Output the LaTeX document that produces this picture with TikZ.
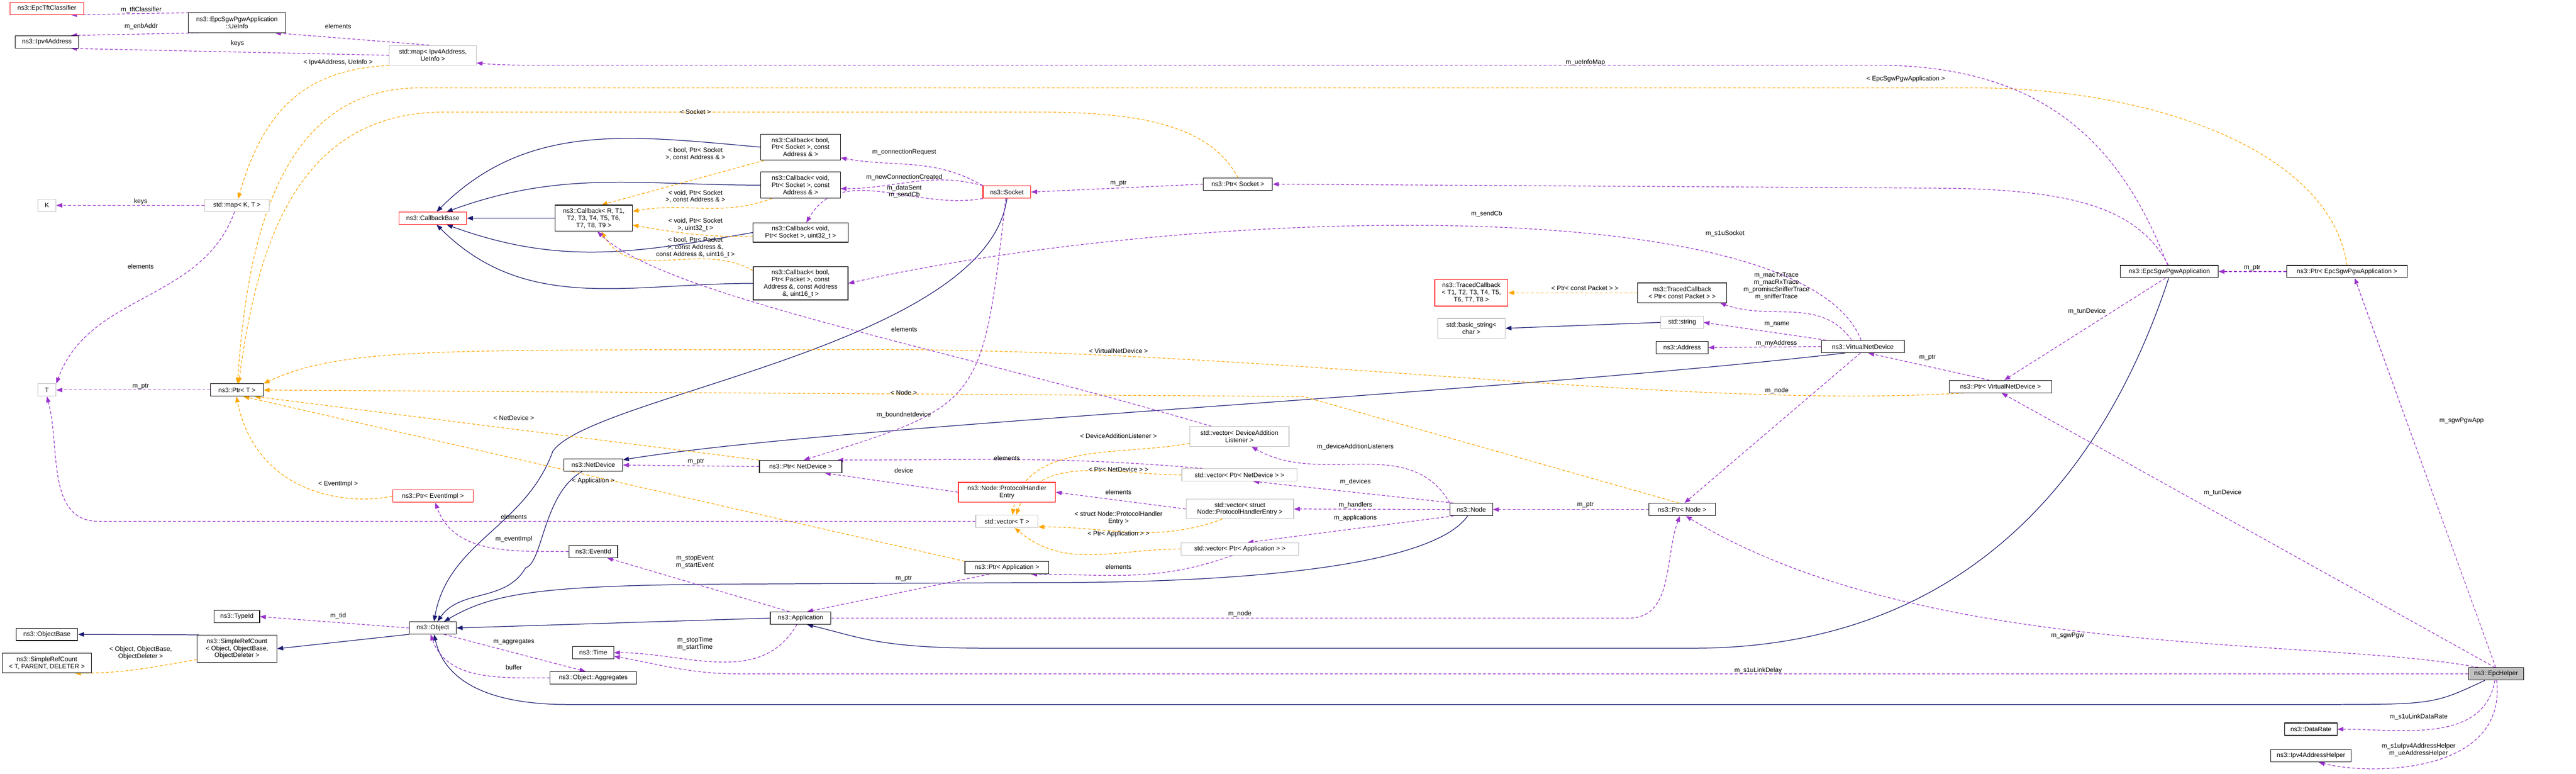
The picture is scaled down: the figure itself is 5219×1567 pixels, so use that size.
\documentclass[tikz,border=0pt]{standalone}
\usepackage{fontspec}
\setmainfont{Liberation Sans}
\usetikzlibrary{arrows.meta}
\definecolor{navy}{HTML}{191970}
\definecolor{purp}{HTML}{9A32CD}
\definecolor{orng}{HTML}{FFA500}
\definecolor{grayb}{HTML}{BFBFBF}
\pgfdeclarelayer{edges}
\pgfsetlayers{edges,main}
\tikzset{
 box/.style={draw=black,line width=1.2pt,fill=white,inner sep=1pt,align=center,font=\fontsize{13}{14.5}\selectfont},
 gbox/.style={box,draw=grayb},
 rbox/.style={box,draw=red},
 lbl/.style={inner sep=0pt,align=center,font=\fontsize{13}{14.5}\selectfont},
 tip/.style={-{Triangle[length=12pt,width=9pt]}},
 use/.style={tip,draw=purp,line width=1.3pt,dash pattern=on 6pt off 4pt},
 inh/.style={tip,draw=navy,line width=1.3pt},
 tmpl/.style={tip,draw=orng,line width=1.3pt,dash pattern=on 6pt off 4pt},
}
\begin{document}
\begin{tikzpicture}[x=1pt,y=-1pt]
\useasboundingbox (0,0) rectangle (5219,1567);
% nodes
\node[rbox,minimum width=149,minimum height=25] (tft) at (95,17) {ns3::EpcTftClassifier};
\node[box,minimum width=197,minimum height=40] (ueinfo) at (480,46) {ns3::EpcSgwPgwApplication\\::UeInfo};
\node[box,minimum width=129,minimum height=25] (ipv4) at (95,85) {ns3::Ipv4Address};
\node[gbox,minimum width=176,minimum height=40] (mapue) at (877,112) {std::map< Ipv4Address,\\UeInfo >};
\node[gbox,minimum width=37,minimum height=25] (K) at (95,416) {K};
\node[gbox,minimum width=131,minimum height=25] (mapkt) at (480,416) {std::map< K, T >};
\node[rbox,minimum width=137,minimum height=25] (cbbase) at (877,442) {ns3::CallbackBase};
\node[box,minimum width=156,minimum height=53] (cbR) at (1203,442) {ns3::Callback< R, T1,\\T2, T3, T4, T5, T6,\\T7, T8, T9 >};
\node[box,minimum width=161,minimum height=53] (cb1) at (1622,298) {ns3::Callback< bool,\\Ptr< Socket >, const\\Address \& >};
\node[box,minimum width=161,minimum height=53] (cb2) at (1622,375) {ns3::Callback< void,\\Ptr< Socket >, const\\Address \& >};
\node[box,minimum width=193,minimum height=39] (cb3) at (1622,471) {ns3::Callback< void,\\Ptr< Socket >, uint32\_t >};
\node[box,minimum width=192,minimum height=67] (cb4) at (1622,574) {ns3::Callback< bool,\\Ptr< Packet >, const\\Address \&, const Address\\\&, uint16\_t >};
\node[rbox,minimum width=97,minimum height=25] (socket) at (2040,389) {ns3::Socket};
\node[box,minimum width=140,minimum height=25] (ptrsock) at (2508,373) {ns3::Ptr< Socket >};
\node[gbox,minimum width=37,minimum height=25] (T) at (95,790) {T};
\node[box,minimum width=107,minimum height=25] (ptrT) at (480,790) {ns3::Ptr< T >};
\node[rbox,minimum width=163,minimum height=25] (ptrev) at (877,1005) {ns3::Ptr< EventImpl >};
\node[box,minimum width=119,minimum height=25] (netdev) at (1202,942) {ns3::NetDevice};
\node[box,minimum width=99,minimum height=25] (eventid) at (1202,1117) {ns3::EventId};
\node[box,minimum width=92,minimum height=25] (typeid) at (480,1249) {ns3::TypeId};
\node[box,minimum width=95,minimum height=25] (object) at (877,1272) {ns3::Object};
\node[box,minimum width=125,minimum height=25] (objbase) at (95,1285) {ns3::ObjectBase};
\node[box,minimum width=162,minimum height=55] (src) at (480,1314) {ns3::SimpleRefCount\\< Object, ObjectBase,\\ObjectDeleter >};
\node[box,minimum width=180,minimum height=40] (srt) at (95,1343) {ns3::SimpleRefCount\\< T, PARENT, DELETER >};
\node[box,minimum width=83,minimum height=25] (time) at (1202,1322) {ns3::Time};
\node[box,minimum width=175,minimum height=25] (aggr) at (1202,1373) {ns3::Object::Aggregates};
\node[box,minimum width=167,minimum height=25] (ptrnd) at (1622,945) {ns3::Ptr< NetDevice >};
\node[rbox,minimum width=197,minimum height=40] (phe) at (2040,997) {ns3::Node::ProtocolHandler\\Entry};
\node[gbox,minimum width=126,minimum height=25] (vecT) at (2040,1056) {std::vector< T >};
\node[box,minimum width=170,minimum height=25] (ptrapp) at (2040,1150) {ns3::Ptr< Application >};
\node[box,minimum width=123,minimum height=25] (app) at (1622,1252) {ns3::Application};
\node[gbox,minimum width=201,minimum height=40] (vdal) at (2511,884) {std::vector< DeviceAddition\\Listener >};
\node[gbox,minimum width=233,minimum height=25] (vnd) at (2511,962) {std::vector< Ptr< NetDevice > >};
\node[gbox,minimum width=218,minimum height=40] (vphe) at (2512,1031) {std::vector< struct\\Node::ProtocolHandlerEntry >};
\node[gbox,minimum width=238,minimum height=25] (vapp) at (2512,1112) {std::vector< Ptr< Application > >};
\node[rbox,minimum width=148,minimum height=54] (tcT) at (2981,593) {ns3::TracedCallback\\< T1, T2, T3, T4, T5,\\T6, T7, T8 >};
\node[box,minimum width=180,minimum height=40] (tcP) at (3408,593) {ns3::TracedCallback\\< Ptr< const Packet > >};
\node[gbox,minimum width=137,minimum height=40] (bstr) at (2981,665) {std::basic\_string<\\char >};
\node[gbox,minimum width=86,minimum height=25] (str) at (3408,653) {std::string};
\node[box,minimum width=105,minimum height=25] (addr) at (3408,704) {ns3::Address};
\node[box,minimum width=168,minimum height=25] (vndev) at (3774,702) {ns3::VirtualNetDevice};
\node[box,minimum width=86,minimum height=25] (node) at (2981,1032) {ns3::Node};
\node[box,minimum width=134,minimum height=25] (ptrnode) at (3408,1032) {ns3::Ptr< Node >};
\node[box,minimum width=198,minimum height=25] (sgw) at (4395,550) {ns3::EpcSgwPgwApplication};
\node[box,minimum width=245,minimum height=25] (ptrsgw) at (4755,550) {ns3::Ptr< EpcSgwPgwApplication >};
\node[box,minimum width=208,minimum height=25] (ptrvnd) at (4053,783) {ns3::Ptr< VirtualNetDevice >};
\node[box,fill=grayb,minimum width=112,minimum height=25] (epc) at (5057,1365) {ns3::EpcHelper};
\node[box,minimum width=106,minimum height=25] (datarate) at (4682,1477) {ns3::DataRate};
\node[box,minimum width=163,minimum height=25] (ipv4h) at (4682,1531) {ns3::Ipv4AddressHelper};

\begin{pgfonlayer}{edges}
% inheritance
\draw[inh] (cb1.west) to[out=175,in=45] (cbbase.60);
\draw[inh] (cb2.west) to[out=180,in=20] (cbbase.25);
\draw[inh] (cbR.west) -- (cbbase.east);
\draw[inh] (cb3.west) to[out=190,in=-20] (cbbase.-25);
\draw[inh] (cb4.west) to[out=180,in=-45] (cbbase.-60);
\draw[inh] (socket.south) .. controls (2000,700) and (1200,800) .. (1120,914) to[out=-110,in=80] (object.80);
\draw[inh] (vndev.200) .. controls (3000,800) and (1700,860) .. (netdev.10);
\draw[inh] (netdev.-150) .. controls (1100,1000) and (1100,1140) .. (1065,1150) to[out=-120,in=55] (object.55);
\draw[inh] (node.-120) .. controls (2900,1150) and (2500,1180) .. (2130,1180) -- (1500,1183) .. controls (1100,1185) and (1000,1200) .. (object.30);
\draw[inh] (app.west) -- (object.east);
\draw[inh] (sgw.-95) .. controls (4250,1000) and (3950,1313) .. (3430,1313) -- (2000,1313) .. controls (1780,1313) and (1740,1290) .. (app.-45);
\draw[inh] (epc.-150) .. controls (4930,1427) .. (4700,1427) -- (1150,1427) .. controls (920,1427) and (890,1330) .. (object.-80);
\draw[inh] (object.195) -- (src.east);
\draw[inh] (src.160) -- (objbase.east);
\draw[inh] (str.west) -- (bstr.east);
% template
\draw[tmpl] (mapue.south west) .. controls (640,140) and (540,200) .. (mapkt.80);
\draw[tmpl] (cb1.-160) -- (cbR.60);
\draw[tmpl] (cb2.-155) to[out=200,in=10] (cbR.10);
\draw[tmpl] (cb3.185) to[out=180,in=-10] (cbR.-10);
\draw[tmpl] (cb4.165) to[out=150,in=-60] (cbR.-60);
\draw[tmpl] (ptrsock.north) .. controls (2450,250) and (2300,227) .. (2100,227) -- (900,227) .. controls (600,227) and (520,500) .. (ptrT.75);
\draw[tmpl] (ptrsgw.north) .. controls (4720,300) and (4350,178) .. (4000,178) -- (850,178) .. controls (560,178) and (500,500) .. (ptrT.85);
\draw[tmpl] (ptrvnd.190) .. controls (3400,830) and (2600,710) .. (1790,708) .. controls (900,710) and (700,700) .. (ptrT.north east);
\draw[tmpl] (ptrnode.115) -- (2640,803) -- (ptrT.east);
\draw[tmpl] (ptrnd.north west) -- (ptrT.-20);
\draw[tmpl] (ptrapp.north west) -- (ptrT.-45);
\draw[tmpl] (ptrev.west) .. controls (700,1025) and (520,1000) .. (ptrT.-95);
\draw[tmpl] (vdal.188) to[out=190,in=80] (vecT.50);
\draw[tmpl] (vnd.west) to[out=180,in=70] (vecT.35);
\draw[tmpl] (vphe.-150) to[out=200,in=0] (vecT.-10);
\draw[tmpl] (vapp.west) to[out=180,in=-40] (vecT.-40);
\draw[tmpl] (tcP.west) -- (tcT.east);
\draw[tmpl] (src.-165) to[out=190,in=0] (srt.-20);
% usage
\draw[use] (ueinfo.165) -- (tft.-15);
\draw[use] (ueinfo.195) -- (ipv4.15);
\draw[use] (mapue.110) -- (ueinfo.-15);
\draw[use] (mapue.west) -- (ipv4.-15);
\draw[use] (sgw.105) .. controls (4300,300) and (4150,132) .. (3800,132) -- (1100,132) to[out=180,in=-5] (mapue.-10);
\draw[use] (sgw.98) .. controls (4330,420) and (4200,381) .. (3900,381) -- (ptrsock.east);
\draw[use] (mapkt.west) -- (K.east);
\draw[use] (mapkt.-110) to[out=250,in=70] (T.north east);
\draw[use] (ptrT.west) -- (T.east);
\draw[use] (vecT.west) -- (200,1056) to[out=180,in=-75] (T.south);
\draw[use] (socket.north west) to[out=150,in=-10] (cb1.-15);
\draw[use] (socket.165) to[out=165,in=0] (cb2.-5);
\draw[use] (socket.195) to[out=190,in=60] (cb3.60);
\draw[use] (ptrsock.west) -- (socket.east);
\draw[use] (socket.-100) .. controls (1990,820) .. (ptrnd.65);
\draw[use] (vndev.105) .. controls (3650,380) and (2400,420) .. (cb4.east);
\draw[use] (vdal.160) .. controls (1900,700) and (1350,600) .. (cbR.-75);
\draw[use] (ptrnd.west) -- (netdev.east);
\draw[use] (vnd.170) to[out=175,in=0] (ptrnd.10);
\draw[use] (phe.west) -- (ptrnd.-15);
\draw[use] (vphe.west) -- (phe.east);
\draw[use] (vapp.-140) to[out=200,in=0] (ptrapp.-15);
\draw[use] (eventid.west) to[out=180,in=-70] (ptrev.-70);
\draw[use] (app.150) -- (eventid.-25);
\draw[use] (app.-120) to[out=240,in=0] (time.east);
\draw[use] (ptrapp.-160) -- (app.45);
\draw[use] (app.east) -- (3300,1252) to[out=0,in=-110] (ptrnode.-110);
\draw[use] (object.west) -- (typeid.east);
\draw[use] (object.-30) -- (aggr.140);
\draw[use] (aggr.west) to[out=180,in=-70] (object.-110);
\draw[use] (node.north west) to[out=120,in=-30] (vdal.-40);
\draw[use] (node.160) -- (vnd.-25);
\draw[use] (node.west) -- (vphe.east);
\draw[use] (node.200) -- (vapp.40);
\draw[use] (ptrnode.west) -- (node.east);
\draw[use] (vndev.150) to[out=125,in=-20] (tcP.-15);
\draw[use] (vndev.170) -- (str.east);
\draw[use] (vndev.west) -- (addr.east);
\draw[use] (vndev.-110) -- (ptrnode.70);
\draw[use] (ptrvnd.150) -- (vndev.-50);
\draw[use] (sgw.-120) -- (ptrvnd.60);
\draw[use] (ptrsgw.west) -- (sgw.east);
\draw[use] (epc.93) -- (ptrsgw.-40);
\draw[use] (epc.100) -- (ptrvnd.-80);
\draw[use] (epc.160) .. controls (4700,1290) and (3900,1340) .. (ptrnode.-60);
\draw[use] (epc.west) -- (1500,1365) to[out=180,in=-10] (time.-10);
\draw[use] (epc.-100) to[out=-100,in=0] (datarate.east);
\draw[use] (epc.-85) .. controls (5080,1570) and (4800,1570) .. (ipv4h.-40);
\end{pgfonlayer}
% labels
\node[lbl] (l1) at (286,20) {m\_tftClassifier};
\node[lbl] (l2) at (286,53) {m\_enbAddr};
\node[lbl] (l3) at (685,53) {elements};
\node[lbl] (l4) at (481,88) {keys};
\node[lbl] (l5) at (685,127) {< Ipv4Address, UeInfo >};
\node[lbl] (l6) at (285,408) {keys};
\node[lbl] (l7) at (285,540) {elements};
\node[lbl] (l8) at (285,783) {m\_ptr};
\node[lbl] (l9) at (1041,847) {< NetDevice >};
\node[lbl] (l10) at (685,980) {< EventImpl >};
\node[lbl] (l11) at (1202,974) {< Application >};
\node[lbl] (l12) at (1041,1047) {elements};
\node[lbl] (l13) at (1041,1092) {m\_eventImpl};
\node[lbl] (l14) at (685,1248) {m\_tid};
\node[lbl] (l15) at (285,1323) {< Object, ObjectBase,\\ObjectDeleter >};
\node[lbl] (l16) at (1041,1300) {m\_aggregates};
\node[lbl] (l17) at (1041,1352) {buffer};
\node[lbl] (l18) at (1409,227) {< Socket >};
\node[lbl] (l19) at (1409,312) {< bool, Ptr< Socket\\>, const Address \& >};
\node[lbl] (l20) at (1832,308) {m\_connectionRequest};
\node[lbl] (l21) at (1832,359) {m\_newConnectionCreated};
\node[lbl] (l22) at (1832,388) {m\_dataSent\\m\_sendCb};
\node[lbl] (l23) at (1409,398) {< void, Ptr< Socket\\>, const Address \& >};
\node[lbl] (l24) at (1409,455) {< void, Ptr< Socket\\>, uint32\_t >};
\node[lbl] (l25) at (1409,501) {< bool, Ptr< Packet\\>, const Address \&,\\const Address \&, uint16\_t >};
\node[lbl] (l26) at (2266,371) {m\_ptr};
\node[lbl] (l27) at (1832,667) {elements};
\node[lbl] (l28) at (2266,711) {< VirtualNetDevice >};
\node[lbl] (l29) at (1831,795) {< Node >};
\node[lbl] (l30) at (1831,841) {m\_boundnetdevice};
\node[lbl] (l31) at (2266,883) {< DeviceAdditionListener >};
\node[lbl] (l32) at (1410,935) {m\_ptr};
\node[lbl] (l33) at (2040,928) {elements};
\node[lbl] (l34) at (1831,953) {device};
\node[lbl] (l35) at (2266,951) {< Ptr< NetDevice > >};
\node[lbl] (l36) at (2266,997) {elements};
\node[lbl] (l37) at (2266,1049) {< struct Node::ProtocolHandler\\Entry >};
\node[lbl] (l38) at (2266,1082) {< Ptr< Application > >};
\node[lbl] (l39) at (1408,1138) {m\_stopEvent\\m\_startEvent};
\node[lbl] (l40) at (2266,1148) {elements};
\node[lbl] (l41) at (1831,1172) {m\_ptr};
\node[lbl] (l42) at (2512,1243) {m\_node};
\node[lbl] (l43) at (1408,1304) {m\_stopTime\\m\_startTime};
\node[lbl] (l44) at (3211,584) {< Ptr< const Packet > >};
\node[lbl] (l45) at (3599,580) {m\_macTxTrace\\m\_macRxTrace\\m\_promiscSnifferTrace\\m\_snifferTrace};
\node[lbl] (l46) at (3600,657) {m\_name};
\node[lbl] (l47) at (3599,695) {m\_myAddress};
\node[lbl] (l48) at (3600,791) {m\_node};
\node[lbl] (l49) at (2746,905) {m\_deviceAdditionListeners};
\node[lbl] (l50) at (2746,976) {m\_devices};
\node[lbl] (l51) at (2746,1023) {m\_handlers};
\node[lbl] (l52) at (2746,1049) {m\_applications};
\node[lbl] (l53) at (3212,1023) {m\_ptr};
\node[lbl] (l54) at (4563,543) {m\_ptr};
\node[lbl] (l55) at (4228,631) {m\_tunDevice};
\node[lbl] (l56) at (3905,724) {m\_ptr};
\node[lbl] (l57) at (4987,852) {m\_sgwPgwApp};
\node[lbl] (l58) at (4503,998) {m\_tunDevice};
\node[lbl] (l59) at (4189,1287) {m\_sgwPgw};
\node[lbl] (l60) at (4900,1452) {m\_s1uLinkDataRate};
\node[lbl] (l61) at (4900,1519) {m\_s1uIpv4AddressHelper\\m\_ueAddressHelper};
\node[lbl] (l62) at (3212,127) {m\_ueInfoMap};
\node[lbl] (l63) at (3861,160) {< EpcSgwPgwApplication >};
\node[lbl] (l64) at (3495,473) {m\_s1uSocket};
\node[lbl] (l65) at (3012,433) {m\_sendCb};
\node[lbl] (l66) at (3562,1358) {m\_s1uLinkDelay};
\end{tikzpicture}
\end{document}
